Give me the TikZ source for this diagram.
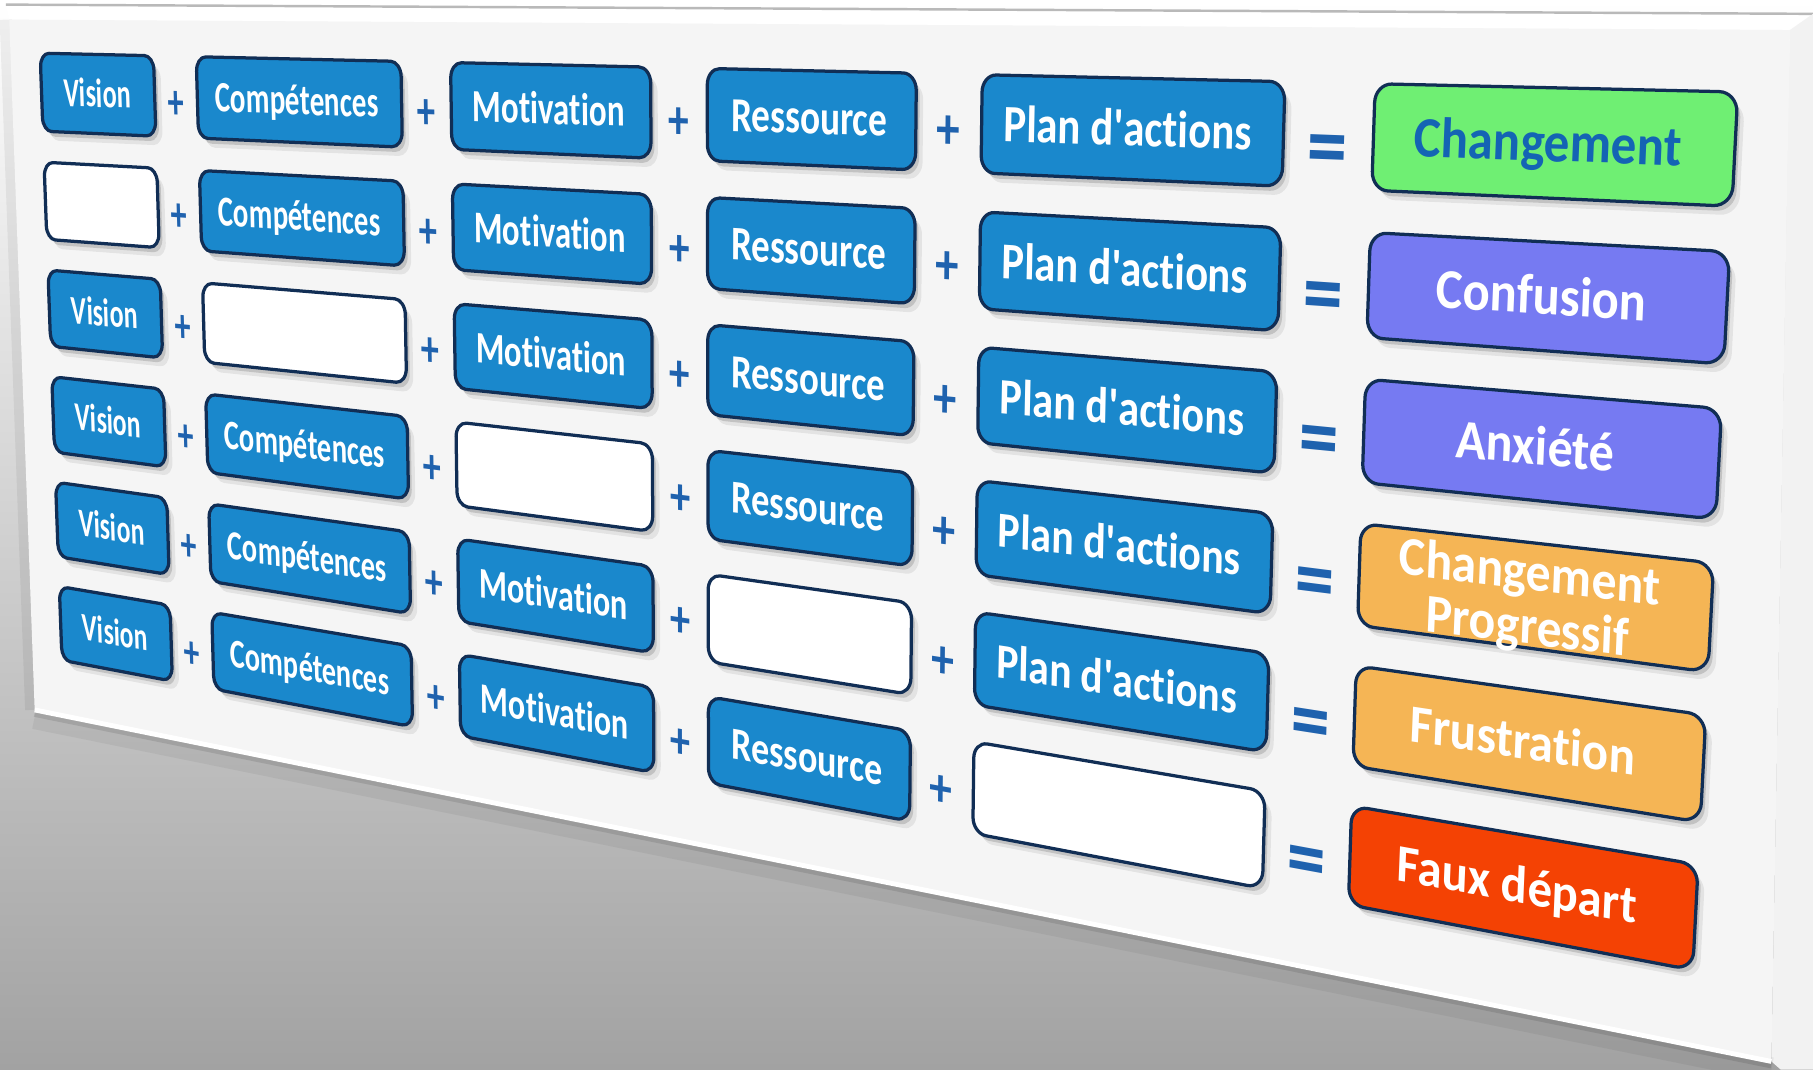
\documentclass[tikz,border=0pt]{standalone}
\usepackage{fontspec}
\setmainfont{Carlito}[Ligatures=CommonOff]
\usepackage{xfp}

\definecolor{boxblue}{HTML}{1A88CC}
\definecolor{edgenavy}{HTML}{112E55}
\definecolor{resgreen}{HTML}{6FEF73}
\definecolor{respurple}{HTML}{767AF2}
\definecolor{resorange}{HTML}{F5B555}
\definecolor{resred}{HTML}{F44204}
\definecolor{txtblue}{HTML}{1464B4}
\definecolor{signblue}{HTML}{1F62AE}
\definecolor{boardface}{HTML}{F5F5F5}
\definecolor{bggrey}{HTML}{A2A2A2}

\newcommand\kq{\XeTeXglyph\XeTeXcharglyph"27\relax}

% ---------- perspective (homography) from flat board to picture ----------
\def\kPxa{0.347}\def\kPya{0.46}
\def\kPxb{15.03}\def\kPyb{0.796}
\def\kPxc{14.64}\def\kPyc{8.39}
\def\kPxd{0.536}\def\kPyd{5.71}
\edef\kdxA{\fpeval{(\kPxb)-(\kPxc)}}
\edef\kdxB{\fpeval{(\kPxd)-(\kPxc)}}
\edef\kdxC{\fpeval{(\kPxa)-(\kPxb)+(\kPxc)-(\kPxd)}}
\edef\kdyA{\fpeval{(\kPyb)-(\kPyc)}}
\edef\kdyB{\fpeval{(\kPyd)-(\kPyc)}}
\edef\kdyC{\fpeval{(\kPya)-(\kPyb)+(\kPyc)-(\kPyd)}}
\edef\kDen{\fpeval{(\kdxA)*(\kdyB)-(\kdxB)*(\kdyA)}}
\edef\hG{\fpeval{((\kdxC)*(\kdyB)-(\kdxB)*(\kdyC))/(\kDen)}}
\edef\hH{\fpeval{((\kdxA)*(\kdyC)-(\kdxC)*(\kdyA))/(\kDen)}}
\edef\hA{\fpeval{(\kPxb)-(\kPxa)+(\hG)*(\kPxb)}}
\edef\hB{\fpeval{(\kPxd)-(\kPxa)+(\hH)*(\kPxd)}}
\edef\hC{\kPxa}
\edef\hD{\fpeval{(\kPyb)-(\kPya)+(\hG)*(\kPyb)}}
\edef\hE{\fpeval{(\kPyd)-(\kPya)+(\hH)*(\kPyd)}}
\edef\hF{\kPya}

% flat X in [0,100], Y in [0,34]  ->  \kX,\kY (cm, y up)
\newcommand\kmap[2]{%
  \edef\kS{\fpeval{(#1)/100}}\edef\kT{\fpeval{(#2)/34}}%
  \edef\kW{\fpeval{(\hG)*(\kS)+(\hH)*(\kT)+1}}%
  \edef\kX{\fpeval{round(((\hA)*(\kS)+(\hB)*(\kT)+(\hC))/(\kW),4)}}%
  \edef\kY{\fpeval{round(-((\hD)*(\kS)+(\hE)*(\kT)+(\hF))/(\kW),4)}}}

% local linear map (for text): \kMa..\kMd
\newcommand\kjac[2]{%
  \kmap{#1}{#2}%
  \edef\kNx{\fpeval{(\hA)*(\kS)+(\hB)*(\kT)+(\hC)}}%
  \edef\kNy{\fpeval{(\hD)*(\kS)+(\hE)*(\kT)+(\hF)}}%
  \edef\kMa{\fpeval{round(2.84528*((\hA)*(\kW)-(\kNx)*(\hG))/((\kW)^2)/100,5)}}%
  \edef\kMb{\fpeval{round(-2.84528*((\hD)*(\kW)-(\kNy)*(\hG))/((\kW)^2)/100,5)}}%
  \edef\kMc{\fpeval{round(-2.84528*((\hB)*(\kW)-(\kNx)*(\hH))/((\kW)^2)/34,5)}}%
  \edef\kMd{\fpeval{round(2.84528*((\hE)*(\kW)-(\kNy)*(\hH))/((\kW)^2)/34,5)}}}

\def\kR{0.75}\def\kK{0.414}
\newcommand\kadd[3]{\kmap{#2}{#3}\edef\kPath{\kPath #1 (\kX,\kY)}}
\newcommand\kbox[4]{%
  \def\kPath{}%
  \kadd{}{#1+\kR}{#2}\edef\kFx{\kX}\edef\kFy{\kY}%
  \kadd{--}{#3-\kR}{#2}%
  \kadd{.. controls}{#3-\kR+\kK}{#2}%
  \kadd{and}{#3}{#2+\kR-\kK}%
  \kadd{..}{#3}{#2+\kR}%
  \kadd{--}{#3}{#4-\kR}%
  \kadd{.. controls}{#3}{#4-\kR+\kK}%
  \kadd{and}{#3-\kR+\kK}{#4}%
  \kadd{..}{#3-\kR}{#4}%
  \kadd{--}{#1+\kR}{#4}%
  \kadd{.. controls}{#1+\kR-\kK}{#4}%
  \kadd{and}{#1}{#4-\kR+\kK}%
  \kadd{..}{#1}{#4-\kR}%
  \kadd{--}{#1}{#2+\kR}%
  \kadd{.. controls}{#1}{#2+\kR-\kK}%
  \kadd{and}{#1+\kR-\kK}{#2}%
  \edef\kPath{\kPath .. (\kFx,\kFy) -- cycle}}

\newcommand\kcell[5]{%
  \kbox{#1}{#2}{#3}{#4}%
  \fill[black,opacity=0.07,shift={(0.06,-0.08)}] \kPath;
  \fill[black,opacity=0.14,shift={(0.03,-0.045)}] \kPath;
  \draw[boxedge,fill=#5] \kPath;}

\newcommand\klbl[6]{%
  \kjac{#1}{#2}%
  \begin{scope}[cm={\kMa,\kMb,\kMc,\kMd,(\kX,\kY)}]
    \node[lbltext,text=#4] (#5) at (0pt,#6) {#3};
  \end{scope}}

\newcommand\ksign[5]{%
  \kjac{#1}{#2}%
  \begin{scope}[cm={\kMa,\kMb,\kMc,\kMd,(\kX,\kY)}]
    \node[#3] (#5) at (0pt,0pt) {#4};
  \end{scope}}

\newcommand\kitem[5]{%
  \edef\kYa{\fpeval{5.95*(#3)}}\edef\kYb{\fpeval{5.95*(#3)+4.25}}%
  \edef\kYc{\fpeval{5.95*(#3)+2.125}}\edef\kXc{\fpeval{((#1)+(#2))/2}}%
  \if\relax\detokenize{#4}\relax
    \kcell{#1}{\kYa}{#2}{\kYb}{white}%
  \else
    \kcell{#1}{\kYa}{#2}{\kYb}{boxblue}%
    \klbl{\kXc}{\kYc}{#4}{white}{#5}{-7pt}%
  \fi}

\newcommand\kres[5]{%
  \edef\kYa{\fpeval{5.95*(#1)}}\edef\kYb{\fpeval{5.95*(#1)+4.25}}%
  \edef\kYc{\fpeval{5.95*(#1)+2.125}}%
  \kcell{84.41}{\kYa}{100}{\kYb}{#2}%
  \klbl{92.205}{\kYc}{#4}{#3}{#5}{-7pt}}

\newcommand\krowsigns[2]{%
  \edef\kYp{\fpeval{5.95*(#1)+2.125+0.43}}%
  \edef\kYe{\fpeval{5.95*(#1)+2.125+0.85}}%
  \ksign{11.24}{\kYp}{plussign}{+}{pa#2}%
  \ksign{30.165}{\kYp}{plussign}{+}{pb#2}%
  \ksign{47.0}{\kYp}{plussign}{+}{pc#2}%
  \ksign{62.89}{\kYp}{plussign}{+}{pd#2}%
  \ksign{82.29}{\kYe}{eqsign}{=}{eq#2}}

\tikzset{
  boxedge/.style={draw=edgenavy, line width=0.8pt, line join=round},
  lbltext/.style={font=\fontsize{22}{22}\selectfont\bfseries, inner sep=0pt, transform shape, anchor=base},
  plussign/.style={font=\fontsize{26}{26}\selectfont\bfseries, text=signblue, inner sep=0pt, transform shape, anchor=center},
  eqsign/.style={font=\fontsize{38}{38}\selectfont\bfseries, text=signblue, inner sep=0pt, transform shape, anchor=center},
}

\begin{document}
\begin{tikzpicture}[x=1cm,y=1cm]
\useasboundingbox (0,0) rectangle (15.68,-9.25);
% background
\shade[top color=white, bottom color=bggrey] (0,0) rectangle (15.68,-9.25);
% board: top side, right side, shadow, face
\fill[white] (0.05,-0.04) -- (15.68,-0.12) -- (15.48,-0.26) -- (0.08,-0.17) -- cycle;
\draw[gray!55, line width=0.6pt] (0.05,-0.04) -- (15.68,-0.12);
\fill[gray!10] (15.48,-0.26) -- (15.68,-0.12) -- (15.68,-9.25) -- (15.40,-9.25) -- (15.32,-9.18) -- cycle;
\draw[black,opacity=0.05,line width=6pt] (0.30,-6.20) -- (15.32,-9.25);
\draw[black,opacity=0.10,line width=2pt] (0.30,-6.165) -- (15.32,-9.205);
\draw[black,opacity=0.06,line width=3pt] (0.05,-0.17) -- (0.27,-6.14);
\fill[boardface] (0.08,-0.17) -- (15.48,-0.26) -- (15.32,-9.18) -- (0.30,-6.14) -- cycle;
\draw[white, line width=1.2pt] (0.30,-6.14) -- (15.32,-9.18);

% row 1
\kitem{0}{9.52}{0}{Vision}{v1}
\kitem{12.96}{28.41}{0}{Compétences}{c1}
\kitem{31.92}{45.23}{0}{Motivation}{m1}
\kitem{48.77}{61.07}{0}{Ressource}{r1}
\kitem{64.71}{80.17}{0}{Plan d\kq actions}{p1}
\kres{0}{resgreen}{txtblue}{Changement}{res1}
\krowsigns{0}{1}
% row 2
\kitem{0}{9.52}{1}{}{v2}
\kitem{12.96}{28.41}{1}{Compétences}{c2}
\kitem{31.92}{45.23}{1}{Motivation}{m2}
\kitem{48.77}{61.07}{1}{Ressource}{r2}
\kitem{64.71}{80.17}{1}{Plan d\kq actions}{p2}
\kres{1}{respurple}{white}{Confusion}{res2}
\krowsigns{1}{2}
% row 3
\kitem{0}{9.52}{2}{Vision}{v3}
\kitem{12.96}{28.41}{2}{}{c3}
\kitem{31.92}{45.23}{2}{Motivation}{m3}
\kitem{48.77}{61.07}{2}{Ressource}{r3}
\kitem{64.71}{80.17}{2}{Plan d\kq actions}{p3}
\kres{2}{respurple}{white}{Anxiété}{res3}
\krowsigns{2}{3}
% row 4
\kitem{0}{9.52}{3}{Vision}{v4}
\kitem{12.96}{28.41}{3}{Compétences}{c4}
\kitem{31.92}{45.23}{3}{}{m4}
\kitem{48.77}{61.07}{3}{Ressource}{r4}
\kitem{64.71}{80.17}{3}{Plan d\kq actions}{p4}
\kcell{84.41}{17.85}{100}{22.1}{resorange}
\klbl{92.205}{19.975}{Changement}{white}{res4a}{2.2pt}
\klbl{92.205}{19.975}{Progressif}{white}{res4b}{-19.6pt}
\krowsigns{3}{4}
% row 5
\kitem{0}{9.52}{4}{Vision}{v5}
\kitem{12.96}{28.41}{4}{Compétences}{c5}
\kitem{31.92}{45.23}{4}{Motivation}{m5}
\kitem{48.77}{61.07}{4}{}{r5}
\kitem{64.71}{80.17}{4}{Plan d\kq actions}{p5}
\kres{4}{resorange}{white}{Frustration}{res5}
\krowsigns{4}{5}
% row 6
\kitem{0}{9.52}{5}{Vision}{v6}
\kitem{12.96}{28.41}{5}{Compétences}{c6}
\kitem{31.92}{45.23}{5}{Motivation}{m6}
\kitem{48.77}{61.07}{5}{Ressource}{r6}
\kitem{64.71}{80.17}{5}{}{p6}
\kres{5}{resred}{white}{Faux départ}{res6}
\krowsigns{5}{6}
\end{tikzpicture}
\end{document}
